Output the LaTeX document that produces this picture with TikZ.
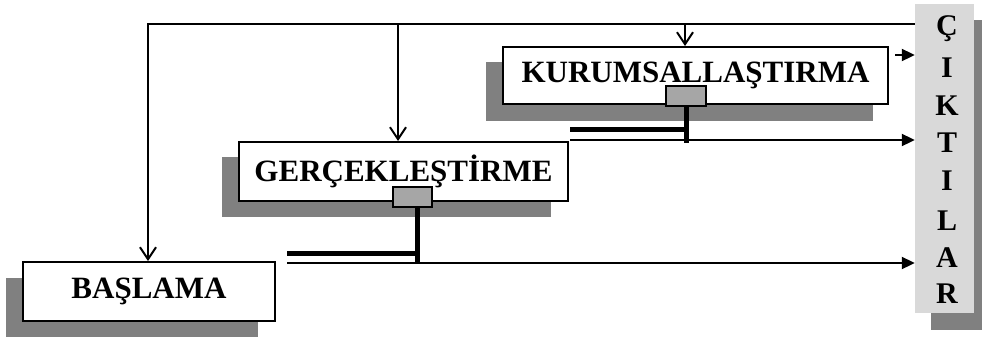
\documentclass[tikz,border=0pt]{standalone}
\usepackage{fontspec}
\setmainfont{Liberation Serif}
\usetikzlibrary{arrows.meta}
\definecolor{shadowgray}{HTML}{808080}
\definecolor{tabgray}{HTML}{A6A6A6}
\definecolor{outgray}{HTML}{D9D9D9}
\begin{document}
\begin{tikzpicture}[x=1pt,y=-1pt,
  stagebox/.style={draw=black, line width=2pt, fill=white, inner sep=0pt,
    font=\fontsize{31}{36}\selectfont\bfseries},
  shadowbox/.style={fill=shadowgray, draw=none, inner sep=0pt},
  tabbox/.style={draw=black, line width=2pt, fill=tabgray, inner sep=0pt,
    minimum width=39pt, minimum height=20pt},
  outbox/.style={fill=outgray, draw=none, inner sep=0pt},
  letter/.style={inner sep=0pt, font=\fontsize{30}{34}\selectfont\bfseries},
  thinline/.style={line width=2pt},
  thickline/.style={line width=5pt},
  feed/.style={thinline, -{Straight Barb[length=12pt,width=16pt,line width=2pt]}},
  outarrow/.style={thinline, -{Triangle[length=13pt,width=12pt]}}
]
\useasboundingbox (0,0) rectangle (982,338);

% shadows
\node[shadowbox, minimum width=252pt, minimum height=59pt] (basS) at (132,307.5) {};
\node[shadowbox, minimum width=329pt, minimum height=60pt] (gerS) at (386.5,187) {};
\node[shadowbox, minimum width=387pt, minimum height=59pt] (kurS) at (679.5,91.5) {};
\node[shadowbox, minimum width=51pt, minimum height=310pt] (outS) at (956.5,175) {};

% boxes
\node[stagebox, minimum width=252pt, minimum height=59pt] (bas) at (149,291.5) {BAŞLAMA};
\node[stagebox, minimum width=329pt, minimum height=59pt] (ger) at (403.5,171.5) {GERÇEKLEŞTİRME};
\node[stagebox, minimum width=385pt, minimum height=57pt] (kur) at (695.5,75.5) {KURUMSALLAŞTIRMA};
\node[outbox, minimum width=59pt, minimum height=309pt] (out) at (944.5,158.5) {};
\foreach \L/\y [count=\i] in {Ç/35,I/77,K/115,T/152,I/190,L/230,A/267,R/303}
  \node[letter, anchor=base] (c\i) at (947,\y) {\L};

% tabs
\node[tabbox] (gt) at (412.5,197) {};
\node[tabbox, minimum width=40pt] (kt) at (686,96) {};

% feedback lines from outputs
\coordinate (topL) at (148,24);
\coordinate (gj) at (398,24);
\coordinate (kj) at (685,24);
\draw[feed] (out.west |- topL) -- (topL) -- (bas.north -| topL);
\draw[feed] (gj) -- (gj |- ger.north);
\draw[feed] (kj) -- (kj |- kur.north);

% outputs of GERCEKLESTIRME
\coordinate (gbar) at (417,263);
\coordinate (gh) at (287,253);
\coordinate (ghe) at (420,253);
\coordinate (gs) at (287,263);
\draw[thickline] (gbar |- gt.south) -- (gbar);
\draw[thickline] (gh) -- (ghe);
\draw[outarrow] (gs) -- (gs -| out.west);

% outputs of KURUMSALLASTIRMA
\coordinate (kbar) at (686,143);
\coordinate (kh) at (570,129);
\coordinate (khe) at (688,129);
\coordinate (ks) at (570,140);
\draw[thickline] (kt.south) -- (kbar);
\draw[thickline] (kh) -- (khe);
\draw[outarrow] (ks) -- (ks -| out.west);

\coordinate (ka) at (895,55);
\draw[outarrow] (ka) -- (ka -| out.west);
\end{tikzpicture}
\end{document}
